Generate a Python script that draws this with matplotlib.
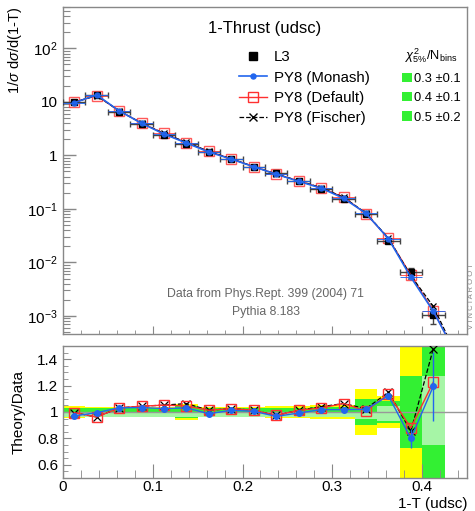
import matplotlib
matplotlib.use("Agg")
import matplotlib.pyplot as plt
import numpy as np
from matplotlib.lines import Line2D
from matplotlib.patches import Patch
from matplotlib.ticker import LogLocator, MultipleLocator, FuncFormatter, NullFormatter

plt.rcParams["font.family"] = ["Liberation Sans", "DejaVu Sans"]
plt.rcParams["mathtext.fontset"] = "custom"
plt.rcParams["mathtext.rm"] = "Liberation Sans"
plt.rcParams["mathtext.it"] = "Liberation Sans:italic"
plt.rcParams["mathtext.bf"] = "Liberation Sans:bold"

# 1-T bin edges (L3 udsc)
bin_edges = [0.0, 0.025, 0.05, 0.075, 0.1, 0.125, 0.15, 0.175, 0.2, 0.225,
             0.25, 0.275, 0.3, 0.325, 0.35, 0.375, 0.4, 0.425]
tail_bin = [0.425, 0.45]   # MC only, below the data range

# L3 data, 1/sigma dsigma/d(1-T), and relative uncertainty
l3_val = [9.9, 13.6, 6.6, 3.85, 2.44, 1.65, 1.17, 0.84, 0.61, 0.46,
          0.33, 0.24, 0.155, 0.081, 0.0247, 0.0066, 0.00102]
l3_rel_err = [0.02, 0.02, 0.02, 0.02, 0.02, 0.03, 0.02, 0.02, 0.02, 0.02,
              0.02, 0.025, 0.03, 0.06, 0.08, 0.2, 0.3]

# Theory/Data ratios
r_monash = [0.97, 0.995, 1.031, 1.034, 1.026, 1.031, 0.987, 1.013, 1.005, 0.967,
            0.992, 1.018, 1.018, 1.02, 1.123, 0.80, 1.195]
r_default = [0.995, 0.962, 1.031, 1.044, 1.052, 1.046, 1.013, 1.026, 1.013, 0.974,
             1.013, 1.031, 1.064, 1.008, 1.136, 0.88, 1.226]
r_fischer = [0.995, 0.962, 1.031, 1.044, 1.052, 1.064, 1.013, 1.026, 1.013, 0.974,
             1.013, 1.04, 1.064, 1.025, 1.15, 0.855, 1.48]
monash_ratio_err = [0.004, 0.004, 0.004, 0.004, 0.004, 0.004, 0.004, 0.004, 0.004, 0.005,
                    0.005, 0.006, 0.006, 0.01, 0.015, 0.07, 0.26]
mc_tail = [2e-4, 2e-4, 2e-4]   # monash, default, fischer in last MC bin

# data uncertainty bands (half widths around 1)
yellow_hw = [0.045, 0.04, 0.04, 0.04, 0.04, 0.06, 0.04, 0.04, 0.04, 0.045,
             0.045, 0.05, 0.05, 0.175, 0.12, 0.54, 1.0]
green_hw = [0.03, 0.03, 0.03, 0.03, 0.03, 0.045, 0.03, 0.03, 0.03, 0.03,
            0.03, 0.035, 0.04, 0.095, 0.085, 0.27, 1.0]
light_lo = [0.965, 0.965, 0.965, 0.965, 0.965, 0.965, 0.965, 0.965, 0.965, 0.965,
            0.965, 0.965, 0.965, 0.95, 0.93, None, 0.75]
light_hi = [0.99, 0.99, 0.99, 0.99, 0.99, 0.99, 0.99, 0.99, 0.99, 0.99,
            0.99, 0.99, 0.99, 0.99, 1.046, None, 1.27]

main_yticks = [1e-3, 1e-2, 1e-1, 1, 10, 100]
chi2_labels = ["0.3 \u00b10.1", "0.4 \u00b10.1", "0.5 \u00b10.2"]
tune_labels = ["PY8 (Monash)", "PY8 (Default)", "PY8 (Fischer)"]

c_blue = "#2266ee"
c_red = "#ff3030"
c_green = "#33f033"
c_yellow = "#ffff00"
c_light = "#a6f5a6"
c_frame = "#888888"

edges = np.array(bin_edges)
xc = 0.5 * (edges[:-1] + edges[1:])
xhw = 0.5 * (edges[1:] - edges[:-1])
data = np.array(l3_val)
tail_c = 0.5 * (tail_bin[0] + tail_bin[1])

fig = plt.figure(figsize=(4.75, 5.11), dpi=100)
ax = fig.add_axes([0.1326, 0.3464, 0.8505, 0.6405])
rax = fig.add_axes([0.1326, 0.0646, 0.8505, 0.2583])

# ---- main panel
ax.errorbar(xc, data, xerr=xhw, yerr=data * np.array(l3_rel_err), fmt="s", color="black",
            ms=4.8, ecolor="#444444", elinewidth=1.0, capsize=2.5, zorder=3)

ratios = [r_monash, r_default, r_fischer]
for i, r in enumerate(ratios):
    mc = data * np.array(r)
    x_all = np.append(xc, tail_c)
    y_all = np.append(mc, mc_tail[i])
    if i == 0:
        ax.plot(x_all, y_all, color=c_blue, lw=1.2, zorder=6)
        ax.errorbar(xc, mc, xerr=xhw, fmt="o", color=c_blue, ms=3.6, elinewidth=0.7, alpha=0.9, zorder=7)
    elif i == 1:
        ax.plot(x_all, y_all, color=c_red, lw=1.0, zorder=4)
        ax.errorbar(xc, mc, xerr=xhw, fmt="s", color=c_red, mfc="none", ms=6.5, mew=1.0,
                    elinewidth=0.7, alpha=0.8, zorder=2)
    else:
        ax.plot(x_all, y_all, color="black", lw=0.9, ls="--", zorder=4)
        ax.plot(xc, mc, "x", color="black", ms=5, mew=0.9, zorder=4)

ax.set_yscale("log")
ax.set_ylim(4.6e-4, 600)
ax.set_xlim(0, 0.45)


def log_fmt(v, pos):
    e = int(round(np.log10(v)))
    if e == 0:
        return "1"
    if e == 1:
        return "10"
    return r"$10^{%d}$" % e


ax.set_yticks(main_yticks)
ax.yaxis.set_minor_locator(LogLocator(base=10, subs=np.arange(2, 10), numticks=20))
ax.yaxis.set_major_formatter(FuncFormatter(log_fmt))
ax.yaxis.set_minor_formatter(NullFormatter())
ax.set_ylim(4.6e-4, 600)
ax.xaxis.set_major_locator(MultipleLocator(0.1))
ax.xaxis.set_minor_locator(MultipleLocator(0.02))
ax.tick_params(axis="x", which="both", direction="in", labelbottom=False, color=c_frame)
ax.tick_params(axis="x", which="major", length=6)
ax.tick_params(axis="x", which="minor", length=3)
ax.tick_params(axis="y", which="both", direction="in", color=c_frame, labelsize=11, pad=4)
ax.tick_params(axis="y", which="major", length=9, width=1.0)
ax.tick_params(axis="y", which="minor", length=5, width=0.8)

leg_handles = [
    Line2D([], [], marker="s", color="black", ls="none", ms=5.5),
    Line2D([], [], color=c_blue, marker="o", ms=3.6, lw=1.2),
    Line2D([], [], color=c_red, marker="s", mfc="none", ms=6.5, lw=1.0),
    Line2D([], [], color="black", ls="--", marker="x", ms=5.5, lw=0.9),
]
leg = ax.legend(leg_handles, ["L3"] + tune_labels, loc="upper left", bbox_to_anchor=(0.435, 0.867),
                frameon=False, fontsize=10.8, handlelength=1.9, handletextpad=0.45,
                labelspacing=0.42, borderpad=0, borderaxespad=0)
ax.add_artist(leg)
chi_handles = [Patch(facecolor=c_green, edgecolor="none") for _ in chi2_labels]
leg2 = ax.legend(chi_handles, chi2_labels, loc="upper left", bbox_to_anchor=(0.84, 0.878),
                 frameon=False, fontsize=9.3, handlelength=0.75, handleheight=0.75,
                 handletextpad=0.15, labelspacing=0.56, borderpad=0, borderaxespad=0,
                 title=r"$\chi^{2}_{5\%}$/N$_{\rm bins}$", title_fontsize=9.3)

ax.text(0.5, 0.932, "1-Thrust (udsc)", transform=ax.transAxes, ha="center", va="center", fontsize=12)
ax.text(0.502, 0.122, "Data from Phys.Rept. 399 (2004) 71", transform=ax.transAxes,
        ha="center", va="center", fontsize=8.8, color="#666666")
ax.text(0.502, 0.068, "Pythia 8.183", transform=ax.transAxes,
        ha="center", va="center", fontsize=8.8, color="#666666")

# ---- ratio panel
rax.bar(xc, 2 * np.array(yellow_hw), bottom=1 - np.array(yellow_hw), width=2 * xhw,
        color=c_yellow, lw=0, zorder=1)
rax.bar(xc, 2 * np.array(green_hw), bottom=1 - np.array(green_hw), width=2 * xhw,
        color=c_green, lw=0, zorder=1)
for k in range(len(xc)):
    if light_lo[k] is None:
        continue
    rax.bar(xc[k], light_hi[k] - light_lo[k], bottom=light_lo[k], width=2 * xhw[k],
            color=c_light, lw=0, zorder=1)
rax.axhline(1.0, color="#999999", lw=1.0, zorder=2)

rax.plot(xc, r_fischer, "--x", color="black", lw=0.9, ms=5.5, mew=0.9, zorder=3)
rax.plot(xc, r_default, "-s", color=c_red, mfc="none", lw=1.0, ms=6.5, mew=1.0, zorder=4)
rax.errorbar(xc, r_monash, yerr=monash_ratio_err, fmt="-o", color=c_blue, lw=1.0, ms=4,
             elinewidth=1.0, zorder=5)

rax.set_xlim(0, 0.45)
rax.set_ylim(0.5, 1.5)
rax.set_xticks([0.0, 0.1, 0.2, 0.3, 0.4])
rax.xaxis.set_minor_locator(MultipleLocator(0.02))
rax.set_yticks([0.6, 0.8, 1.0, 1.2, 1.4])
rax.yaxis.set_minor_locator(MultipleLocator(0.05))
rax.xaxis.set_major_formatter(FuncFormatter(lambda v, p: "%g" % round(v, 3)))
rax.yaxis.set_major_formatter(FuncFormatter(lambda v, p: "%g" % round(v, 3)))
rax.tick_params(axis="both", which="both", direction="in", color=c_frame, labelsize=11)
rax.tick_params(axis="x", which="major", length=10, pad=1.5)
rax.tick_params(axis="x", which="minor", length=6)
rax.tick_params(axis="y", which="major", length=6)
rax.tick_params(axis="y", which="minor", length=3.5)

for a in (ax, rax):
    for s in a.spines.values():
        s.set_color(c_frame)
        s.set_linewidth(1.0)

fig.text(15 / 475, 1 - 7 / 511, r"1/$\sigma$ d$\sigma$/d(1-T)", rotation=90, ha="center", va="top", fontsize=10.5)
fig.text(19 / 475, 1 - 412 / 511, "Theory/Data", rotation=90, ha="center", va="center", fontsize=11)
fig.text(467 / 475, 1 - 504 / 511, "1-T (udsc)", ha="right", va="center", fontsize=11)
fig.text(0.993, 1 - 296 / 511, "V I N C I A R O O T", rotation=90, ha="center", va="center",
         fontsize=5.5, color="#888888")

fig.savefig("out.png", dpi=100)
